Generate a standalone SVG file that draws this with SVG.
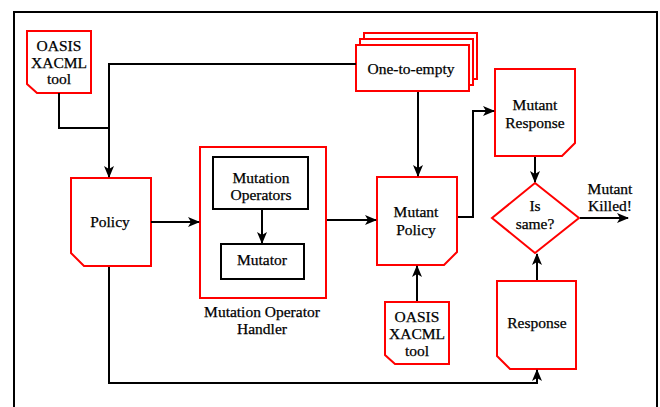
<svg xmlns="http://www.w3.org/2000/svg" width="660" height="407" viewBox="0 0 660 407">
<style>
text{font-family:"Liberation Serif","Times New Roman","DejaVu Serif",serif;font-size:15.5px;fill:#000;text-anchor:middle;stroke:#000;stroke-width:0.25}
.red{fill:#fff;stroke:#ff0000;stroke-width:2}
.blk{fill:#fff;stroke:#000;stroke-width:2}
.ln{fill:none;stroke:#000;stroke-width:2}
</style>
<defs>
<marker id="ah" markerWidth="12" markerHeight="10" refX="11" refY="5" orient="auto" markerUnits="userSpaceOnUse" viewBox="0 0 12 10">
<path d="M0,0 L12,5 L0,10 L3,5 z" fill="#000"/>
</marker>
</defs>
<rect x="0" y="0" width="660" height="407" fill="#fff"/>
<g id="frame">
<path class="ln" d="M14,407 V12 H657 V407"/>
</g>
<g id="oasis1">
<path class="red" d="M27,31 H91 V93 H37 L27,84 Z"/>
<text x="59" y="51">OASIS</text>
<text x="59" y="67.5">XACML</text>
<text x="59" y="84">tool</text>
</g>
<g id="one-to-empty">
<rect class="red" x="364" y="33" width="113" height="46"/>
<rect class="red" x="360" y="39" width="113" height="46"/>
<rect class="red" x="356" y="45" width="113" height="46"/>
<text x="411" y="74">One-to-empty</text>
</g>
<g id="policy">
<path class="red" d="M71,178 H151 V266 H84 L71,253 Z"/>
<text x="110" y="227">Policy</text>
</g>
<g id="handler">
<rect x="200" y="147" width="126" height="151" fill="#fff" stroke="#ff0000" stroke-width="2"/>
<text x="262" y="317">Mutation Operator</text>
<text x="262" y="333.5">Handler</text>
</g>
<g id="mutation-operators">
<rect class="blk" x="213" y="157" width="95" height="52"/>
<text x="261" y="183">Mutation</text>
<text x="261" y="199.5">Operators</text>
</g>
<g id="mutator">
<rect class="blk" x="221" y="244" width="83" height="35"/>
<text x="262" y="265">Mutator</text>
</g>
<g id="mutant-policy">
<path class="red" d="M377,177 H457 V252 L444,265 H377 Z"/>
<text x="416" y="217">Mutant</text>
<text x="416" y="235">Policy</text>
</g>
<g id="oasis2">
<path class="red" d="M385,302 H449 V364 H395 L385,355 Z"/>
<text x="417" y="322">OASIS</text>
<text x="417" y="339">XACML</text>
<text x="417" y="356">tool</text>
</g>
<g id="mutant-response">
<path class="red" d="M495,69 H575 V143 L562,156 H495 Z"/>
<text x="535" y="110">Mutant</text>
<text x="535" y="127.5">Response</text>
</g>
<g id="is-same">
<path class="red" d="M535,183 L579,218 L535,253 L492,218 Z"/>
<text x="535" y="211">Is</text>
<text x="535" y="228.5">same?</text>
</g>
<g id="killed">
<text x="610" y="194">Mutant</text>
<text x="610" y="211">Killed!</text>
</g>
<g id="response">
<path class="red" d="M497,281 H576 V369 H510 L497,356 Z"/>
<text x="537" y="328">Response</text>
</g>
<g id="connectors">
<path class="ln" d="M59,93 V128 H109"/>
<path class="ln" d="M356,64 H109 V177" marker-end="url(#ah)"/>
<path class="ln" d="M418,92 V176" marker-end="url(#ah)"/>
<path class="ln" d="M151,222 H199" marker-end="url(#ah)"/>
<path class="ln" d="M262,210 V243" marker-end="url(#ah)"/>
<path class="ln" d="M327,220 H376" marker-end="url(#ah)"/>
<path class="ln" d="M417,301 V266" marker-end="url(#ah)"/>
<path class="ln" d="M458,217 H473 V111 H494" marker-end="url(#ah)"/>
<path class="ln" d="M535,157 V182" marker-end="url(#ah)"/>
<path class="ln" d="M580,218 H628" marker-end="url(#ah)"/>
<path class="ln" d="M537,280 V254" marker-end="url(#ah)"/>
<path class="ln" d="M109,267 V383 H537 V370" marker-end="url(#ah)"/>
</g>
</svg>
